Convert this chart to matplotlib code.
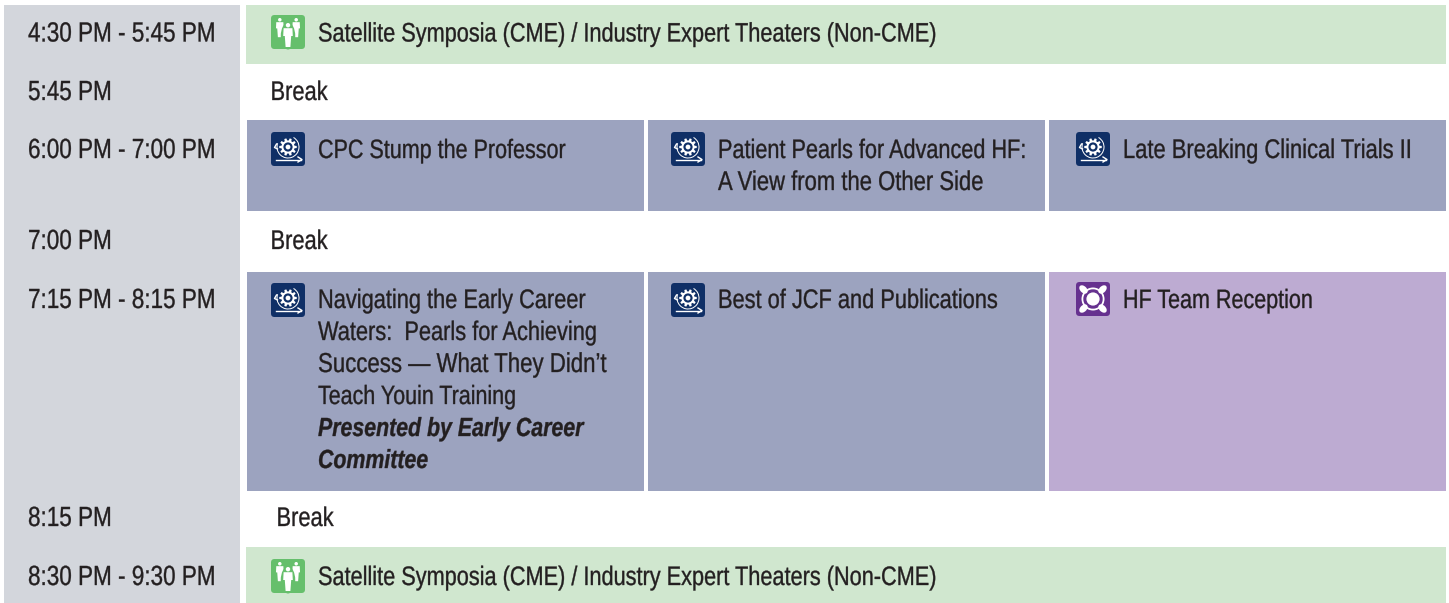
import matplotlib
matplotlib.use("Agg")
import matplotlib.pyplot as plt
from math import cos, sin, pi
from matplotlib import patheffects as pe
from matplotlib.transforms import Affine2D
from matplotlib.patches import Rectangle, FancyBboxPatch, Circle, Polygon, Ellipse, Wedge

times = ["4:30 PM - 5:45 PM", "5:45 PM", "6:00 PM - 7:00 PM", "7:00 PM",
         "7:15 PM - 8:15 PM", "8:15 PM", "8:30 PM - 9:30 PM"]
satellite = "Satellite Symposia (CME) / Industry Expert Theaters (Non-CME)"
break_label = "Break"
row3 = [["CPC Stump the Professor"],
        ["Patient Pearls for Advanced HF:", "A View from the Other Side"],
        ["Late Breaking Clinical Trials II"]]
row3_sizes = [[15.5], [15.6, 15.87], [15.79]]
row5_first = ["Navigating the Early Career", "Waters:  Pearls for Achieving",
              "Success — What They Didn’t", "Teach Youin Training"]
row5_first_sizes = [15.69, 15.69, 16.0, 15.45]
row5_first_italic = ["Presented by Early Career", "Committee"]
row5_rest = ["Best of JCF and Publications", "HF Team Reception"]
row5_rest_sizes = [15.69, 15.5]

GREY, GREEN, BLUE, PURPLE = "#d3d6dc", "#d0e7cf", "#9ca3bf", "#bdabd2"
ICON_G, ICON_B, ICON_P = "#66bf6c", "#0f2f66", "#66318f"
INK = "#231f20"
FONT = "Liberation Sans"


class Tall(pe.AbstractPathEffect):
    """Stretch each glyph run about its baseline (the reference face is condensed)."""
    def __init__(self, k):
        super().__init__()
        self.k = k

    def draw_path(self, renderer, gc, tpath, affine, rgbFace=None):
        gc0 = renderer.new_gc()
        gc0.copy_properties(gc)
        gc0.set_linewidth(0.25)
        gc0.set_foreground(INK)
        renderer.draw_path(gc0, tpath, Affine2D().scale(1, self.k) + affine, rgbFace)
        gc0.restore()


TALL = [Tall(1.23)]

fig = plt.figure(figsize=(14.49, 6.03), dpi=100)
ax = fig.add_axes([0, 0, 1, 1])
ax.set_xlim(0, 1449)
ax.set_ylim(603, 0)
ax.axis("off")


def box(x0, y0, x1, y1, c):
    ax.add_patch(Rectangle((x0, y0), x1 - x0, y1 - y0, fc=c, ec="none"))


def label(x, base, s, size=15.75, **kw):
    t = ax.text(x, base, s, fontsize=size, family=FONT, color=INK, va="baseline",
                ha="left", **kw)
    t.set_path_effects(TALL)
    return t


def icon_base(x, y, c):
    ax.add_patch(FancyBboxPatch((x + 3, y + 3), 28, 28,
                                boxstyle="round,pad=3,rounding_size=3.5", fc=c, ec="none"))


def person(cx, top, s, c="white", z=3):
    ax.add_patch(Circle((cx, top + 2.2 * s), 2.2 * s, fc=c, ec="none", zorder=z))
    ax.add_patch(Polygon([(cx - 4.4 * s, top + 5.2 * s), (cx + 4.4 * s, top + 5.2 * s),
                          (cx + 4.8 * s, top + 13 * s), (cx + 3.2 * s, top + 13 * s),
                          (cx + 2.4 * s, top + 24 * s), (cx - 2.4 * s, top + 24 * s),
                          (cx - 3.2 * s, top + 13 * s), (cx - 4.8 * s, top + 13 * s)],
                         fc=c, ec="none", zorder=z))


def icon_people(x, y):
    icon_base(x, y, ICON_G)
    person(x + 8.8, y + 3, 0.8)
    person(x + 25.2, y + 3, 0.8)
    ax.add_patch(Ellipse((x + 17, y + 21), 14.5, 27, fc=ICON_G, ec="none", zorder=3.5))
    person(x + 17, y + 8, 1.0, z=4)


def icon_gear(x, y):
    icon_base(x, y, ICON_B)
    cx, cy = x + 17, y + 15
    ax.add_patch(Wedge((cx, cy), 11.5, -60, 200, width=1.0, fc="white", ec="none", zorder=3))
    teeth = []
    for i in range(10):
        a0 = 2 * pi * i / 10
        for da, r in [(-0.2, 6.6), (-0.12, 8.8), (0.12, 8.8), (0.2, 6.6)]:
            teeth.append((cx + r * cos(a0 + da), cy + r * sin(a0 + da)))
    ax.add_patch(Polygon(teeth, fc="white", ec="none", zorder=3))
    ax.add_patch(Circle((cx, cy), 4.6, fc=ICON_B, ec="none", zorder=4))
    ax.add_patch(Circle((cx, cy), 2.4, fc="white", ec="none", zorder=5))
    ax.plot([x + 5, x + 30], [y + 27.5, y + 27.5], color="white", lw=1.0, zorder=3)
    ax.plot([x + 27, x + 31, x + 27], [y + 25, y + 27.5, y + 30], color="white", lw=1.0, zorder=3)
    ax.plot([x + 5.5, x + 3.5, x + 6.5], [y + 12, y + 15.5, y + 17], color="white", lw=1.0, zorder=3)


def icon_team(x, y):
    icon_base(x, y, ICON_P)
    cx, cy = x + 17, y + 17
    ax.add_patch(Wedge((cx, cy), 11.5, 0, 360, width=1.8, fc="white", ec="none", zorder=3))
    for sx in (-1, 1):
        for sy in (-1, 1):
            ax.add_patch(Ellipse((cx + sx * 9.5, cy + sy * 9.5), 10, 6.5,
                                 angle=45 * sx * sy, fc="white", ec="none", zorder=3))
    ax.add_patch(Circle((cx, cy), 8.5, fc=ICON_P, ec="none", zorder=3.2))
    ax.add_patch(Circle((cx, cy), 6.6, fc="white", ec="none", zorder=3.4))


# backgrounds
box(4, 5, 240, 603, GREY)
for y0, y1 in [(5, 64), (547, 603)]:
    box(246, y0, 1446, y1, GREEN)
for y0, y1 in [(120, 211), (272, 491)]:
    box(247, y0, 644, y1, BLUE)
    box(648, y0, 1045, y1, BLUE)
box(1049, 120, 1446, 211, BLUE)
box(1049, 272, 1446, 491, PURPLE)

# time column
time_base = [41.5, 100, 158, 249, 308, 526, 585]
for t, y in zip(times, time_base):
    label(28, y, t, size=16.2)

# breaks
for x, y in [(270.5, 100), (270.5, 249), (276.5, 526)]:
    label(x, y, break_label, size=15.75)

# satellite rows
for y, iy in [(41.5, 15), (585, 559)]:
    icon_people(271, iy)
    label(318, y, satellite, size=15.63)

# 6:00 row
for x, ix, lines, sizes in zip([318, 718, 1123], [271, 671, 1076], row3, row3_sizes):
    icon_gear(ix, 132)
    for i, (s, fs) in enumerate(zip(lines, sizes)):
        label(x, 158 + 32 * i, s, size=fs)

# 7:15 row
icon_gear(271, 283)
icon_gear(671, 283)
icon_team(1076, 282)
for i, (s, fs) in enumerate(zip(row5_first, row5_first_sizes)):
    label(318, 308 + 32 * i, s, size=fs)
for i, s in enumerate(row5_first_italic):
    label(318, 436 + 32 * i, s, size=15.35, style="italic", weight="bold")
label(718, 308, row5_rest[0], size=row5_rest_sizes[0])
label(1123, 308, row5_rest[1], size=row5_rest_sizes[1])

fig.savefig("out.png", dpi=100, facecolor="white")
